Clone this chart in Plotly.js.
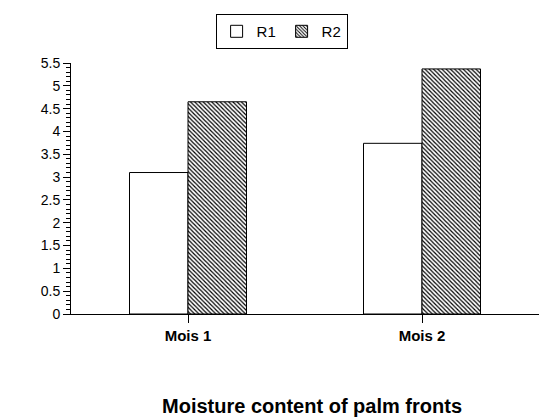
<!DOCTYPE html>
<html><head><meta charset="utf-8">
<script src="https://cdn.plot.ly/plotly-3.0.1.min.js"></script>
<style>html,body{margin:0;padding:0;background:#fff}#chart{width:539px;height:419px}</style>
</head><body><div id="chart"></div>
<script>
const categories = ["Mois 1", "Mois 2"];
const seriesNames = ["R1", "R2"];
const r1Values = [3.1, 3.74];
const r2Values = [4.65, 5.37];
const yTickVals = [0, 0.5, 1, 1.5, 2, 2.5, 3, 3.5, 4, 4.5, 5, 5.5];
const yTickText = ["0", "0.5", "1", "1.5", "2", "2.5", "3", "3.5", "4", "4.5", "5", "5.5"];
const chartTitle = "Moisture content of palm fronts";

const font = {family: "Liberation Sans, Arial, sans-serif", size: 13, color: "#000"};
const traces = [
  {type: "bar", name: seriesNames[0], x: categories, y: r1Values,
   marker: {color: "#fff", line: {color: "#000", width: 1}}},
  {type: "bar", name: seriesNames[1], x: categories, y: r2Values,
   marker: {color: "#fff", line: {color: "#000", width: 1},
     pattern: {shape: "\\", fgcolor: "#000", bgcolor: "#fff", size: 3, solidity: 0.4}}}
];
const layout = {
  width: 539, height: 419,
  margin: {l: 71, r: 0, t: 63, b: 105},
  paper_bgcolor: "#fff", plot_bgcolor: "#fff",
  font: font,
  barmode: "group", bargap: 0.5, bargroupgap: 0,
  showlegend: true,
  legend: {orientation: "h", x: 0.45, xanchor: "center", y: 1.195, yanchor: "top",
    bordercolor: "#000", borderwidth: 1, font: {family: font.family, size: 15, color: "#000"},
    itemwidth: 30, entrywidth: 20, tracegroupgap: 0, bgcolor: "#fff"},
  xaxis: {type: "category", range: [-0.5, 1.5], showline: true, linecolor: "#000", linewidth: 1,
    ticks: "outside", ticklen: 8, tickcolor: "#000", tickwidth: 1, showgrid: false, zeroline: false,
    tickfont: {family: font.family, size: 15, color: "#000", weight: "bold"}, fixedrange: true},
  yaxis: {range: [0, 5.5], showline: true, linecolor: "#000", linewidth: 1,
    tickmode: "array", tickvals: yTickVals, ticktext: yTickText,
    ticks: "outside", ticklen: 7, tickcolor: "#000", tickwidth: 1,
    minor: {dtick: 0.1, ticks: "outside", ticklen: 4, tickcolor: "#000", tickwidth: 1, showgrid: false},
    showgrid: false, zeroline: false, tickfont: {family: font.family, size: 14, color: "#000"}, fixedrange: true},
  annotations: [{text: chartTitle, xref: "paper", yref: "paper", x: 0.515, y: -0.366,
    xanchor: "center", yanchor: "middle", showarrow: false,
    font: {family: font.family, size: 20, color: "#000", weight: "bold"}}]
};
Plotly.newPlot("chart", traces, layout, {displayModeBar: false, staticPlot: true});
</script></body></html>
